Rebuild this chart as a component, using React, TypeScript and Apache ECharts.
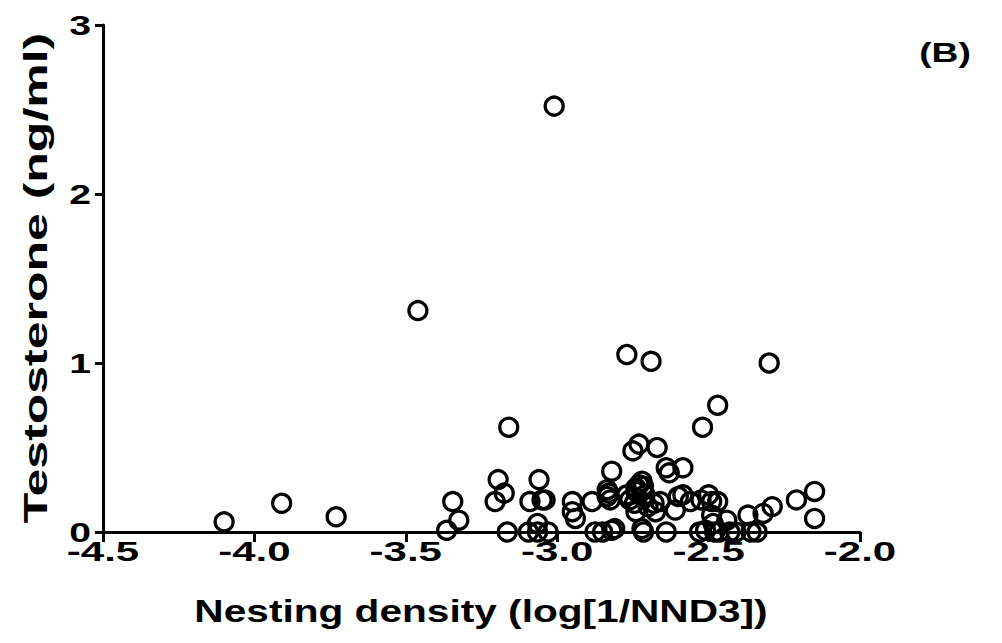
import React, { useEffect, useRef } from "react";
import * as echarts from "echarts";

const xValues: number[] = [
  -4.10, -3.91, -3.73, -3.46, -3.365, -3.345, -3.325, -3.195, -3.175, -3.205,
  -3.165, -3.16, -3.06, -3.09, -3.05, -3.04, -3.095, -3.065, -3.065, -3.03,
  -3.01, -2.95, -2.95, -2.94, -2.885, -2.875, -2.85, -2.82, -2.81, -2.835,
  -2.83, -2.835, -2.825, -2.82, -2.77, -2.76, -2.77, -2.75, -2.73, -2.74,
  -2.73, -2.72, -2.715, -2.74, -2.745, -2.74, -2.71, -2.70, -2.72, -2.715,
  -2.69, -2.67, -2.68, -2.675, -2.66, -2.64, -2.63, -2.64, -2.61, -2.60,
  -2.585, -2.585, -2.56, -2.53, -2.52, -2.525, -2.51, -2.50, -2.49, -2.47,
  -2.47, -2.49, -2.485, -2.48, -2.465, -2.44, -2.43, -2.41, -2.37, -2.36,
  -2.34, -2.32, -2.30, -2.29, -2.21, -2.15, -2.15,
];

const yValues: number[] = [
  0.06, 0.17, 0.09, 1.31, 0.01, 0.18, 0.07, 0.31, 0.23, 0.18,
  0.00, 0.62, 0.31, 0.18, 0.19, 0.19, 0.00, 0.05, 0.00, 0.00,
  2.52, 0.18, 0.12, 0.08, 0.18, 0.00, 0.00, 0.01, 0.02, 0.25,
  0.23, 0.21, 0.19, 0.36, 0.22, 0.19, 1.05, 0.48, 0.52, 0.26,
  0.28, 0.30, 0.27, 0.24, 0.17, 0.12, 0.22, 0.15, 0.02, 0.00,
  1.01, 0.50, 0.17, 0.12, 0.18, 0.38, 0.35, 0.00, 0.13, 0.21,
  0.38, 0.22, 0.18, 0.00, 0.62, 0.19, 0.01, 0.22, 0.18, 0.18,
  0.75, 0.10, 0.05, 0.00, 0.00, 0.07, 0.00, 0.00, 0.10, 0.00,
  0.00, 0.11, 1.00, 0.15, 0.19, 0.24, 0.08,
];

const xTicks: number[] = [-4.5, -4.0, -3.5, -3.0, -2.5, -2.0];
const yTicks: number[] = [0, 1, 2, 3];
const xTitle = "Nesting density (log[1/NND3])";
const yTitle = "Testosterone (ng/ml)";
const panelLabel = "(B)";

const FONT = "'Liberation Sans', Arial, sans-serif";

export default function App() {
  const ref = useRef<HTMLDivElement>(null);

  useEffect(() => {
    if (!ref.current) return;
    const chart = echarts.init(ref.current, undefined, { renderer: "svg" });
    const points = xValues.map((x, i) => [x, yValues[i]]);
    chart.setOption({
      animation: false,
      backgroundColor: "#ffffff",
      grid: { left: 103, right: 142, top: 25, bottom: 111, containLabel: false },
      xAxis: {
        type: "value",
        min: -4.5,
        max: -2.0,
        interval: 0.5,
        axisLine: { onZero: false, lineStyle: { color: "#000", width: 3 } },
        axisTick: { show: true, length: 10, lineStyle: { color: "#000", width: 3 } },
        axisLabel: { show: false },
        splitLine: { show: false },
      },
      yAxis: {
        type: "value",
        min: 0,
        max: 3,
        interval: 1,
        axisLine: { show: true, lineStyle: { color: "#000", width: 3 } },
        axisTick: { show: true, length: 8, lineStyle: { color: "#000", width: 3 } },
        axisLabel: { show: false },
        splitLine: { show: false },
      },
      series: [
        {
          type: "scatter",
          data: points,
          symbol: "circle",
          symbolSize: 18,
          clip: false,
          itemStyle: {
            color: "rgba(0,0,0,0)",
            borderColor: "#000",
            borderWidth: 3.3,
            opacity: 1,
          },
        },
      ],
    });

    const graphics: any[] = [];
    xTicks.forEach((v) => {
      const px = chart.convertToPixel({ xAxisIndex: 0 }, v) as number;
      const py = chart.convertToPixel({ yAxisIndex: 0 }, 0) as number;
      graphics.push({
        type: "text",
        x: px,
        y: py + 20,
        scaleX: 1.5,
        style: {
          text: v.toFixed(1),
          font: `bold 28px ${FONT}`,
          fill: "#000",
          align: "center",
          verticalAlign: "middle",
        },
      });
    });
    yTicks.forEach((v) => {
      const py = chart.convertToPixel({ yAxisIndex: 0 }, v) as number;
      const px = chart.convertToPixel({ xAxisIndex: 0 }, -4.5) as number;
      graphics.push({
        type: "text",
        x: px - 12,
        y: py,
        scaleX: 1.4,
        style: {
          text: String(v),
          font: `bold 28px ${FONT}`,
          fill: "#000",
          align: "right",
          verticalAlign: "middle",
        },
      });
    });
    graphics.push({
      type: "text",
      x: 481,
      y: 611,
      scaleX: 1.27,
      style: {
        text: xTitle,
        font: `bold 32px ${FONT}`,
        fill: "#000",
        align: "center",
        verticalAlign: "middle",
      },
    });
    graphics.push({
      type: "text",
      x: 35,
      y: 278,
      rotation: Math.PI / 2,
      scaleX: 1.47,
      style: {
        text: yTitle,
        font: `bold 34px ${FONT}`,
        fill: "#000",
        align: "center",
        verticalAlign: "middle",
      },
    });
    graphics.push({
      type: "text",
      x: 945,
      y: 53,
      scaleX: 1.38,
      style: {
        text: panelLabel,
        font: `bold 27px ${FONT}`,
        fill: "#000",
        align: "center",
        verticalAlign: "middle",
      },
    });
    chart.setOption({ graphic: graphics });

    return () => chart.dispose();
  }, []);

  return <div ref={ref} style={{ width: 1002, height: 643, position: "absolute", left: 0, top: 0 }} />;
}
